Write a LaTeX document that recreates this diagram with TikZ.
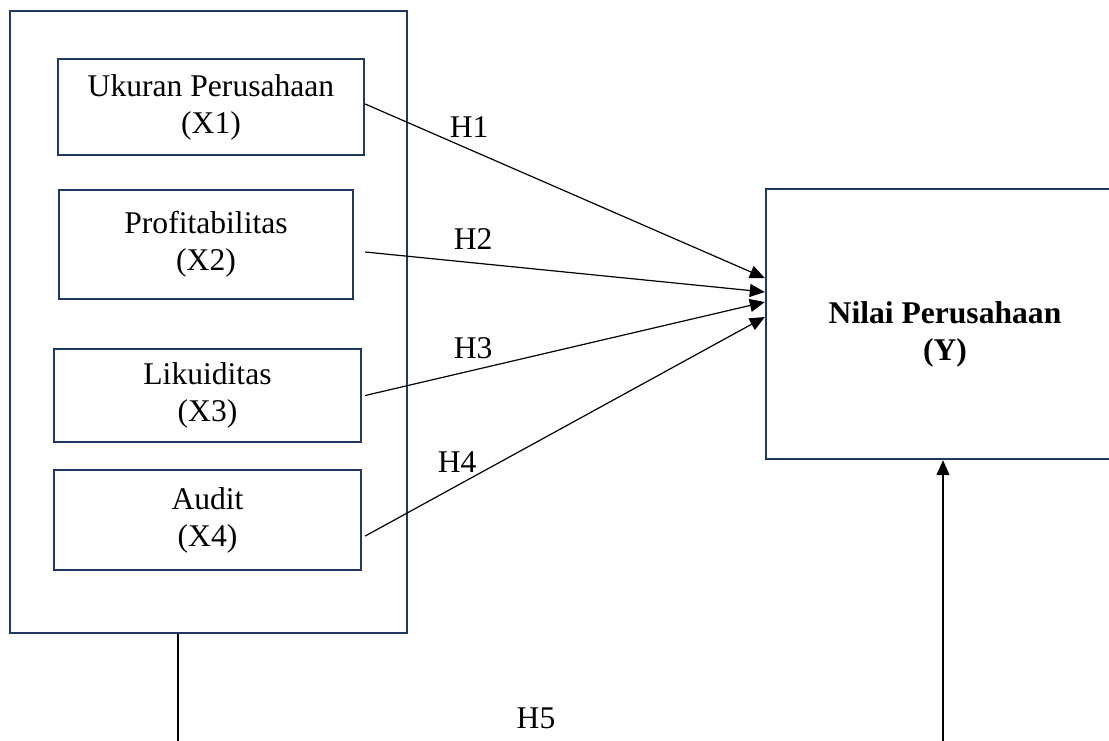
\documentclass[tikz,border=0pt]{standalone}
\usepackage{fontspec}
\setmainfont{Liberation Serif}
\usetikzlibrary{arrows.meta,positioning,calc}
\definecolor{navy}{HTML}{1F3864}
\tikzset{varbox/.style={draw=navy,line width=1.2pt,align=center,
 font=\fontsize{15.8}{18.5}\selectfont,inner sep=0pt},
 hyparrow/.style={-{Triangle[length=7.5pt,width=6.5pt]},draw=black,line width=0.6pt},
 hyplabel/.style={font=\fontsize{15.8}{18.5}\selectfont}}

\begin{document}
\begin{tikzpicture}[x=0.5pt,y=-0.5pt]
\useasboundingbox (0,0) rectangle (1109,740);
\clip (0,0) rectangle (1109,740);
\node[varbox,minimum width=198.5pt,minimum height=311pt] (group) at (208.5,322) {};
\node[varbox,minimum width=153pt,minimum height=48pt] (x1) at (211,107) {Ukuran Perusahaan\\(X1)};
\node[varbox,minimum width=147pt,minimum height=54.5pt] (x2) at (206,244.5) {Profitabilitas\\(X2)};
\node[varbox,minimum width=153.5pt,minimum height=46.5pt] (x3) at (207.5,395.5) {Likuiditas\\(X3)};
\node[varbox,minimum width=153.5pt,minimum height=50pt] (x4) at (207.5,520) {Audit\\(X4)};
\node[varbox,minimum width=179pt,minimum height=135pt] (y) at (945,324) {};
\node[hyplabel,align=center,font=\fontsize{15.8}{18.5}\selectfont\bfseries] (ytext) at ([yshift=-5pt]y.center) {Nilai Perusahaan\\(Y)};
\coordinate (h5start) at (178,760);
\coordinate (h5end) at (943,760);
\draw[hyparrow] ([yshift=1.5pt]x1.east)--node[pos=0.26,above=2pt,hyplabel]{H1}([yshift=23pt]y.west);
\draw[hyparrow] ([xshift=5.5pt,yshift=-3.75pt]x2.east)--node[pos=0.27,above=3pt,hyplabel]{H2}([yshift=16pt]y.west);
\draw[hyparrow] ([xshift=1.5pt]x3.east)--node[pos=0.27,above=2pt,hyplabel]{H3}([yshift=11pt]y.west);
\draw[hyparrow] ([xshift=1.5pt,yshift=-8pt]x4.east)--node[pos=0.23,above=3pt,hyplabel]{H4}([yshift=3.5pt]y.west);
\draw[line width=0.6pt] (h5start |- group.south)--(h5start);
\draw[hyparrow] (h5end)--(h5end |- y.south);
\node[hyplabel] (h5) at (536,718) {H5};
\end{tikzpicture}
\end{document}
